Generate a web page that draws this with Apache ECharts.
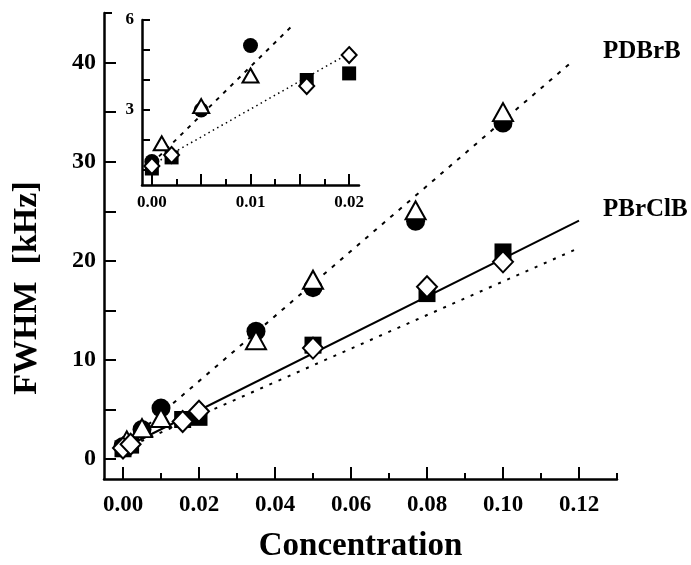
<!DOCTYPE html>
<html>
<head>
<meta charset="utf-8">
<script src="https://cdn.jsdelivr.net/npm/echarts@6/dist/echarts.min.js"></script>
<style>
  html, body { margin: 0; padding: 0; background: #fff; }
  #chart { width: 691px; height: 565px; }
</style>
</head>
<body>
<div id="chart"></div>
<script>
// PDBrB: filled circles and open triangles
const circleX = [0, 0.005, 0.01, 0.035, 0.05, 0.077, 0.1];
const circleY = [1.28, 3.0, 5.15, 12.9, 17.3, 24.0, 33.9];
const triangleX = [0.001, 0.005, 0.01, 0.035, 0.05, 0.077, 0.1];
const triangleY = [1.89, 3.13, 4.15, 12.0, 18.1, 25.1, 35.0];
// PBrClB: filled squares and open diamonds
const squareX = [0, 0.002, 0.0157, 0.02, 0.05, 0.08, 0.1];
const squareY = [1.05, 1.42, 4.0, 4.22, 11.5, 16.7, 20.9];
const diamondX = [0, 0.002, 0.0157, 0.02, 0.05, 0.08, 0.1];
const diamondY = [1.13, 1.5, 3.8, 4.83, 11.2, 17.4, 19.9];

// fitted lines (end points)
const fitPDBrB = [[0, 1.3], [0.1185, 40.2]];
const fitPBrClB = [[0, 1.1], [0.12, 24.05]];
const fitPBrClB2 = [[0, 1.0], [0.12, 21.3]];
const insetFitPDBrB = [[0, 1.22], [0.0143, 5.83]];
const insetFitPBrClB = [[0, 1.17], [0.02, 4.89]];

// ticks
const mainXLabels = [0, 0.02, 0.04, 0.06, 0.08, 0.10, 0.12];
const mainXMinor = [0.01, 0.03, 0.05, 0.07, 0.09, 0.11, 0.13];
const mainYLabels = [0, 10, 20, 30, 40];
const mainYTicks = [0, 5, 10, 15, 20, 25, 30, 35, 40];
const insetXLabels = [0, 0.01, 0.02];
const insetXMajor = [0, 0.005, 0.01, 0.015, 0.02];
const insetXMinor = [0.0025, 0.0075, 0.0125, 0.0175];
const insetYLabels = [3, 6];
const insetYTicks = [1, 2, 3, 4, 5, 6];

const font = '"Liberation Serif", "Times New Roman", serif';
const insetMax = 0.021;

function pairs(xs, ys, limit) {
    let out = [];
    for (let i = 0; i < xs.length; i++) {
        if (limit === undefined || xs[i] <= limit) out.push([xs[i], ys[i]]);
    }
    return out;
}

function axisX(grid, min, max, ticks, len, labels, fs, margin) {
    return {
        gridIndex: grid, type: 'value', position: 'bottom', min: min, max: max,
        axisLine: {show: labels != null, onZero: false, lineStyle: {color: '#000', width: 2.5}},
        axisTick: {inside: true, length: len, customValues: ticks, lineStyle: {color: '#000', width: 2}},
        axisLabel: labels ? {
            customValues: labels, margin: margin, color: '#000', fontFamily: font,
            fontWeight: 'bold', fontSize: fs, formatter: v => v.toFixed(2)
        } : {show: false},
        splitLine: {show: false}
    };
}

function axisY(grid, min, max, ticks, len, labels, fs, margin) {
    return {
        gridIndex: grid, type: 'value', position: 'left', min: min, max: max,
        axisLine: {show: labels != null, onZero: false, lineStyle: {color: '#000', width: 2.5}},
        axisTick: {inside: true, length: len, customValues: ticks, lineStyle: {color: '#000', width: 2}},
        axisLabel: labels ? {
            customValues: labels, margin: margin, color: '#000', fontFamily: font,
            fontWeight: 'bold', fontSize: fs
        } : {show: false},
        splitLine: {show: false}
    };
}

function fitLine(data, xi, dash, width) {
    return {
        type: 'line', data: data, xAxisIndex: xi, yAxisIndex: xi,
        symbol: 'none', silent: true, z: 1,
        lineStyle: {color: '#000', width: width, type: dash, opacity: 1}
    };
}

function markers(data, xi, symbol, size, filled) {
    return {
        type: 'scatter', data: data, xAxisIndex: xi, yAxisIndex: xi,
        symbol: symbol, symbolSize: size, silent: true, z: 2,
        itemStyle: filled
            ? {color: '#000', opacity: 1}
            : {color: '#fff', borderColor: '#000', borderWidth: 2, opacity: 1}
    };
}

let chart = echarts.init(document.getElementById('chart'));

let mainX = axisX(0, -0.005, 0.13, mainXLabels, 12, mainXLabels, 23, 15);
mainX.name = 'Concentration';
mainX.nameLocation = 'middle';
mainX.nameGap = 51;
mainX.nameTextStyle = {color: '#000', fontFamily: font, fontWeight: 'bold', fontSize: 33};

chart.setOption({
    animation: false,
    grid: [
        {left: 104, top: 13, width: 513, height: 466, outerBoundsMode: 'none'},
        {left: 142, top: 20, width: 217, height: 165, outerBoundsMode: 'none'}
    ],
    xAxis: [
        mainX,
        axisX(0, -0.005, 0.13, mainXMinor, 6, null),
        axisX(1, -0.001, insetMax, insetXMajor, 11, insetXLabels, 17, 9),
        axisX(1, -0.001, insetMax, insetXMinor, 6, null)
    ],
    yAxis: [
        axisY(0, -2, 45, mainYTicks, 12, mainYLabels, 24, 8),
        axisY(0, -2, 45, [45], 8, null),
        axisY(1, 0.5, 6, insetYTicks, 8, insetYLabels, 17, 8),
        axisY(1, 0.5, 6, [6], 8, null)
    ],
    series: [
        fitLine(fitPDBrB, 0, [4, 7], 2),
        fitLine(fitPBrClB, 0, 'solid', 2),
        fitLine(fitPBrClB2, 0, [3, 7], 2),
        markers(pairs(circleX, circleY), 0, 'circle', 19, true),
        markers(pairs(squareX, squareY), 0, 'rect', 17, true),
        markers(pairs(triangleX, triangleY), 0, 'triangle', [20, 18], false),
        markers(pairs(diamondX, diamondY), 0, 'diamond', [20, 21], false),

        fitLine(insetFitPDBrB, 2, [4, 6], 2),
        fitLine(insetFitPBrClB, 2, [1.5, 3.5], 1.5),
        markers(pairs(circleX, circleY, insetMax), 2, 'circle', 15, true),
        markers(pairs(squareX, squareY, insetMax), 2, 'rect', 14, true),
        markers(pairs(triangleX, triangleY, insetMax), 2, 'triangle', [16, 14], false),
        markers(pairs(diamondX, diamondY, insetMax), 2, 'diamond', [15, 16], false)
    ],
    graphic: [
        {
            type: 'text', x: 27, y: 288, rotation: Math.PI / 2,
            style: {text: 'FWHM  [kHz]', font: 'bold 34px ' + font, fill: '#000',
                    textAlign: 'center', textVerticalAlign: 'middle'}
        },
        {
            type: 'text', x: 603, y: 52,
            style: {text: 'PDBrB', font: 'bold 25px ' + font, fill: '#000',
                    textAlign: 'left', textVerticalAlign: 'middle'}
        },
        {
            type: 'text', x: 603, y: 210,
            style: {text: 'PBrClB', font: 'bold 25px ' + font, fill: '#000',
                    textAlign: 'left', textVerticalAlign: 'middle'}
        }
    ]
});
</script>
</body>
</html>
